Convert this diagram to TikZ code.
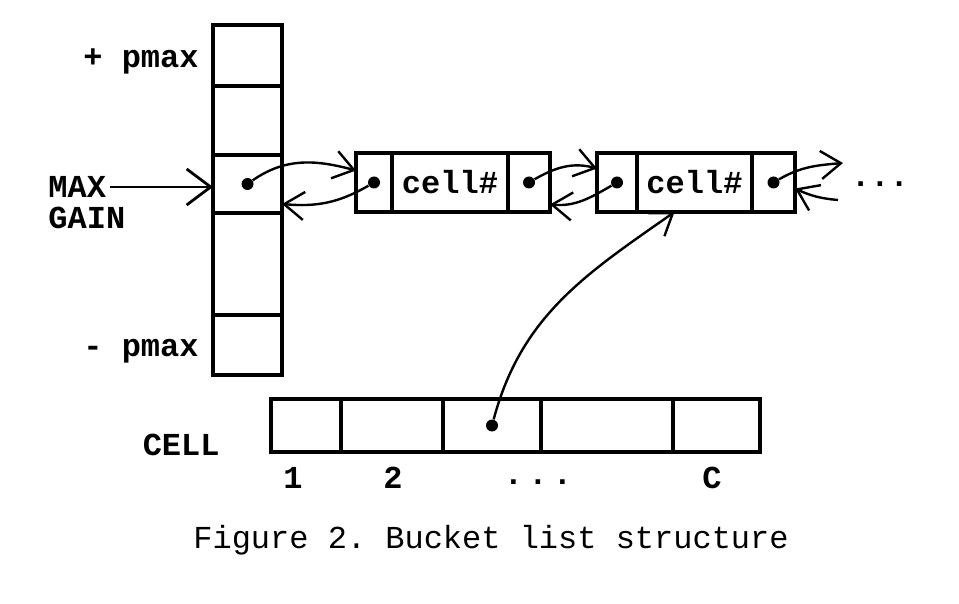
\documentclass[tikz,border=0pt]{standalone}
\usepackage{fontspec}
\setmainfont{Liberation Mono}
\usepackage{tikz}
\usetikzlibrary{arrows.meta, positioning}

\begin{document}
\frenchspacing
\begin{tikzpicture}[x=0.5pt, y=-0.5pt, node distance=0pt,
        slot/.style={rectangle, draw, line width=1.6pt, outer sep=0pt, inner sep=0pt, minimum width=34.5pt},
        field/.style={rectangle, draw, line width=1.6pt, outer sep=0pt, inner sep=0pt, minimum height=29.5pt, font=\fontsize{16}{19}\selectfont\bfseries},
        entry/.style={rectangle, draw, line width=1.6pt, outer sep=0pt, inner sep=0pt, minimum height=26.5pt},
        lbl/.style={font=\fontsize{16}{19}\selectfont\bfseries, inner sep=0pt},
        ptrdot/.style={circle, fill, inner sep=0pt, minimum size=6pt},
        ptr/.style={draw, line width=1.2pt, -{Straight Barb[length=10pt, width=14pt, line width=1.2pt]}},
        bigptr/.style={draw, line width=1.4pt, -{Straight Barb[length=12pt, width=18pt, line width=1.4pt]}}]

        \path [use as bounding box, fill=white] (0,0) rectangle (959,604);

        \node [slot, minimum height=30.5pt, anchor=north west] (b1) at (213,25) {};
        \node [slot, minimum height=34.5pt, below=of b1] (b2) {};
        \node [slot, minimum height=29pt, below=of b2] (b3) {};
        \node [slot, minimum height=51pt, below=of b3] (b4) {};
        \node [slot, minimum height=30pt, below=of b4] (b5) {};
        \node [lbl, left=7pt of b1, yshift=-3pt] (pmaxtop) {+ pmax};
        \node [lbl, left=7pt of b5, yshift=-3pt] (pmaxbot) {- pmax};
        \node [lbl, anchor=west] (maxlbl) at (48,187) {MAX};
        \node [lbl, anchor=west] (gainlbl) at (48,218) {GAIN};

        \node [field, minimum width=18pt, anchor=north west] (c1l) at (356,153) {};
        \node [field, minimum width=58pt, right=of c1l] (c1m) {cell\#};
        \node [field, minimum width=21pt, right=of c1m] (c1r) {};
        \node [field, minimum width=20pt, anchor=north west] (c2l) at (597,153) {};
        \node [field, minimum width=57.5pt, right=of c2l] (c2m) {cell\#};
        \node [field, minimum width=21.5pt, right=of c2m] (c2r) {};
        \node [lbl, anchor=base] (more) at (880,187) {...};

        \node [entry, minimum width=35pt, anchor=north west] (a1) at (271,399) {};
        \node [entry, minimum width=51pt, right=of a1] (a2) {};
        \node [entry, minimum width=49pt, right=of a2] (a3) {};
        \node [entry, minimum width=66pt, right=of a3] (a4) {};
        \node [entry, minimum width=43.5pt, right=of a4] (a5) {};
        \node [lbl, anchor=east] (celllbl) at (220,445) {CELL};
        \node [lbl] (idx1) at (293,478) {1};
        \node [lbl] (idx2) at (393,478) {2};
        \node [lbl, anchor=base] (idxdots) at (538,484) {.\,.\,.};
        \node [lbl] (idxc) at (712,478) {C};

        \node [lbl, font=\fontsize{16}{19}\selectfont] (caption) at (491,540) {Figure 2. Bucket list structure};

        \node [ptrdot] (d0) at (b3) {};
        \node [ptrdot] (d1) at (c1l) {};
        \node [ptrdot] (d2) at (c1r) {};
        \node [ptrdot] (d3) at (c2l) {};
        \node [ptrdot] (d4) at (c2r) {};
        \node [ptrdot] (d5) at (a3) {};
        \coordinate (nxt) at (843,163);
        \coordinate (prv) at (838,200);

        \path [bigptr] ([xshift=2pt]maxlbl.east) -- (maxlbl.east -| b3.west);
        \path [ptr] (d0) to [out=35, in=165] ([yshift=6pt]c1l.west);
        \path [ptr] (d1) to [out=210, in=-5] ([yshift=-10pt]b3.east);
        \path [ptr] (d2) to [out=30, in=165] ([yshift=7pt]c2l.west);
        \path [ptr] (d3) to [out=210, in=-5] ([yshift=-11pt]c1r.east);
        \path [ptr] (d4) to [out=30, in=185] (nxt);
        \path [ptr] (prv) to [out=175, in=-25] ([yshift=-3pt]c2r.east);
        \path [ptr] (d5) to [out=75, in=215] ([xshift=-10pt]c2m.south);
    \end{tikzpicture}
\end{document}
